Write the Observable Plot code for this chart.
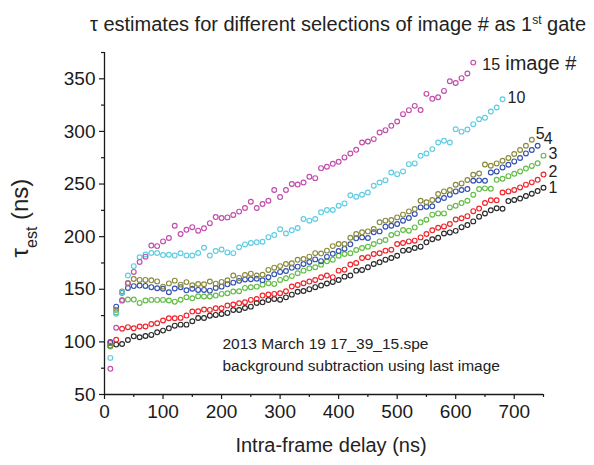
<!DOCTYPE html>
<html>
<head>
<meta charset="utf-8">
<script src="https://cdn.jsdelivr.net/npm/d3@7"></script>
<script src="https://cdn.jsdelivr.net/npm/@observablehq/plot@0.6"></script>
<style>
  html, body { margin: 0; padding: 0; background: #ffffff; }
  #chart { width: 594px; height: 465px; }
</style>
</head>
<body>
<div id="chart"></div>
<script>
// Intra-frame delays (ns) shared by all selections
const delays = [
  10, 20, 30, 40, 50, 60, 70, 80, 90, 100,
  110, 120, 130, 140, 150, 160, 170, 180, 190, 200,
  210, 220, 230, 240, 250, 260, 270, 280, 290, 300,
  310, 320, 330, 340, 350, 360, 370, 380, 390, 400,
  410, 420, 430, 440, 450, 460, 470, 480, 490, 500,
  510, 520, 530, 540, 550, 560, 570, 580, 590, 600,
  610, 620, 630, 640, 650, 660, 670, 680, 690, 700,
  710, 720, 730, 740, 750
];

// tau estimates (ns), one list per image # used as first gate
const tau1 = [
  96, 97.4, 98, 101.8, 105.3, 104.4, 105.6, 106.6, 109.1, 110.7,
  112.9, 115.4, 116.4, 116.4, 119.6, 122.7, 122.7, 124.9, 125.6, 126.5,
  127.5, 130.3, 130.3, 132.2, 133.5, 137, 137.6, 139.8, 140.8, 140.1,
  142.3, 144.9, 147.6, 148.4, 150.1, 152, 153.5, 155.5, 157, 158.8,
  162, 163, 167.7, 168.3, 170.9, 174, 175.6, 178.1, 179.7, 181.9,
  186.7, 187.3, 189.2, 190.5, 194.6, 197.5, 199, 203, 204, 205.5,
  209, 211, 214.5, 219, 222, 225, 227, 226.5, 233.8, 234.8,
  236.2, 238.6, 240.8, 243.3, 246.5
];
const tau2 = [
  99, 102, 112.5, 114, 113, 114.6, 114.6, 117, 117.7, 120.3,
  122.5, 122.5, 122.8, 125, 128.8, 129.1, 130.7, 130.4, 132, 132,
  134.5, 135.5, 136.7, 137.7, 139.9, 140.8, 144, 145, 145.6, 146.2,
  148.1, 152.6, 154.1, 155.7, 157.3, 158.8, 161.4, 163, 161.5, 167.7,
  168.6, 173.5, 175, 179.7, 180.4, 183.5, 184.2, 186.7, 187.6, 193,
  194, 195.5, 196.2, 199.3, 202.5, 206, 208.5, 209.7, 212, 216.3,
  217.5, 219.5, 224.2, 226.7, 232, 234.5, 234.5, 242, 243, 244.3,
  246.8, 249.4, 251.6, 254, 259
];
const tau3 = [
  95.6, 128, 139.9, 140.2, 140.2, 137, 139.3, 139.9, 139.9, 139.9,
  139.3, 138.2, 140, 142.4, 141.5, 143.4, 143.1, 143.1, 144, 145.6,
  146.2, 147.8, 148.1, 151.3, 151.9, 152.5, 154.4, 155.7, 155.1, 158.9,
  160.5, 162.5, 165.2, 167.7, 169.9, 170.9, 173.4, 176.6, 178.1, 181.9,
  183.5, 184.2, 187.3, 189.2, 190.5, 193, 195.5, 196.8, 201.6, 203.1,
  206.3, 205.7, 208.8, 213.6, 216.1, 220.9, 222.1, 222.1, 227.8, 229.4,
  231.9, 234.1, 239.8, 245.2, 245.9, 245.5, 254, 255, 257.5, 259.8,
  262, 264.7, 267.2, 269.7, 277
];
const tau4 = [
  100, 133.5, 146.7, 151.3, 153, 153.5, 153.2, 152, 151, 150.5,
  147.2, 150.7, 152, 149, 150.5, 149.4, 149.4, 148.7, 151.3, 152.5,
  154.7, 156.3, 158, 159.3, 159.5, 160, 158.5, 161.4, 164.2, 166.5,
  167.4, 170.4, 171.5, 174, 175.9, 178.4, 176.7, 180.8, 183.8, 186.3,
  188.5, 192.7, 198.4, 199.3, 198.7, 204.1, 205, 209.5, 210.4, 212,
  215.2, 217.7, 221.5, 227.8, 228.4, 228.8, 234.8, 236.7, 239.8, 243,
  244.3, 245.2, 253.1, 253.5, 253.1, 261, 262, 265.8, 268.3, 271.5,
  274.7, 279.1, 282.3, 286.4
];
const tau5 = [
  96.5, 130.6, 148, 156, 159.8, 158.9, 158.9, 158.5, 157.5, 152.5,
  155.6, 158.2, 154.4, 156.8, 153.8, 155, 154.8, 157.4, 155.3, 157,
  158.5, 163, 160.8, 163.5, 164.8, 163, 163.8, 168.4, 170.5, 172,
  174, 174.7, 178, 178.8, 181, 184.3, 184, 186.7, 191, 193,
  193, 199, 202.5, 204.1, 205, 207.3, 213.6, 215.2, 215.8, 218.3,
  220.9, 224, 226.2, 234.1, 232.6, 234.8, 240.5, 243, 244.3, 249.3,
  250.6, 253.8, 258.8, 260, 268.6, 267.4, 269.6, 272.1, 274.7, 278.5,
  282.3, 286.4, 292.1
];
const tau10 = [
  84.8, 126.8, 147, 163, 172, 180.4, 183, 184.5, 184.5, 182.5,
  182.8, 182, 184.2, 182, 182, 184.5, 189.5, 182, 186.3, 187.8,
  185, 184.3, 189.9, 192.6, 194, 194.6, 195.2, 199.5, 201.5, 207,
  203, 206, 208.2, 216.8, 215.2, 216.8, 223.1, 225.3, 225.3, 229.4,
  231.6, 239.3, 237.9, 239.8, 242, 248.4, 251.5, 253.7, 261, 259.4,
  262, 268.9, 269.6, 276.8, 279, 283.2, 289.5, 291.1, 289.5, 302.1,
  299.8, 301.8, 306.9, 311.6, 313, 318.9, 322.7, 330.6
];
const tau15 = [
  74.4, 113.4, 139.2, 155.6, 166.5, 176, 181, 191.5, 191, 195.5,
  198.7, 210.4, 202.5, 206.5, 209, 205.7, 207.9, 212.8, 218.6, 217.7,
  218.3, 220.6, 223.8, 227.2, 233.2, 227.2, 231, 234.1, 244.3, 237.6,
  244.3, 250, 249.5, 251.5, 256.9, 255.6, 265.1, 266.4, 269.2, 271.1,
  275.3, 279, 282.5, 289.5, 290.4, 292.7, 299, 301.2, 305.3, 309.4,
  316.4, 320.2, 324.3, 320.3, 335.7, 331, 332.5, 338.5, 347.7, 346,
  350.6, 355, 365.4
];

const seriesNames = ["1", "2", "3", "4", "5", "10", "15"];
const seriesValues = [tau1, tau2, tau3, tau4, tau5, tau10, tau15];
const seriesColors = ["#2a2a2a", "#f0242a", "#62bd45", "#3550b3", "#8a8a3c", "#5fcde2", "#c24daa"];

// tick values
const xMajorTicks = [0, 100, 200, 300, 400, 500, 600, 700];
const xMinorTicks = [50, 150, 250, 350, 450, 550, 650, 750];
const yMajorTicks = [50, 100, 150, 200, 250, 300, 350];
const yMinorTicks = [75, 125, 175, 225, 275, 325, 375];

const titleText = "τ estimates for different selections of image # as 1st gate";
const yLabelText = "τest (ns)";
const xLabelText = "Intra-frame delay (ns)";
const noteText = "2013 March 19 17_39_15.spe\nbackground subtraction using last image";

// label placement for each series end (pixels relative to last point)
const labelOffsets = {
  "1": [5, 0], "2": [5, -3], "3": [5, -2], "4": [6, -7],
  "5": [4, -6], "10": [5, -1], "15": [9, 2]
};

const rows = seriesNames.map((name, k) =>
  seriesValues[k].map((v, i) => ({series: name, delay: delays[i], tau: v}))
);
const lastPoints = rows.map(r => r[r.length - 1]);

const font = "'Liberation Sans', Arial, Helvetica, sans-serif";

const marks = [];
rows.forEach((r, k) => {
  marks.push(Plot.dot(r, {
    x: "delay", y: "tau", r: 2.4, fill: "none",
    stroke: seriesColors[k], strokeWidth: 1.15
  }));
});

marks.push(
  Plot.ruleX([0], {stroke: "#1a1a1a", strokeWidth: 1.3}),
  Plot.ruleY([50], {stroke: "#1a1a1a", strokeWidth: 1.3}),
  Plot.axisX({ticks: xMajorTicks, tickSize: 5, tickPadding: 5, fontSize: 19, label: null, stroke: "#1a1a1a", strokeWidth: 1.2}),
  Plot.axisX({ticks: xMinorTicks, tickSize: 3, tickFormat: () => "", label: null, stroke: "#1a1a1a", strokeWidth: 1.2}),
  Plot.axisY({ticks: yMajorTicks, tickSize: 5, tickPadding: 4, fontSize: 19, label: null, stroke: "#1a1a1a", strokeWidth: 1.2}),
  Plot.axisY({ticks: yMinorTicks, tickSize: 3, tickFormat: () => "", label: null, stroke: "#1a1a1a", strokeWidth: 1.2})
);

// series labels at the end of each run
lastPoints.forEach(p => {
  const [dx, dy] = labelOffsets[p.series];
  marks.push(Plot.text([p], {
    x: "delay", y: "tau", text: "series", dx, dy,
    textAnchor: "start", fontSize: 16, fill: "#222"
  }));
});
const p15 = lastPoints[seriesNames.indexOf("15")];
marks.push(Plot.text([p15], {
  x: "delay", y: "tau", text: () => "image #", dx: 32, dy: 1,
  textAnchor: "start", fontSize: 20, fill: "#222"
}));

// annotation, axis titles and chart title
marks.push(
  Plot.text([noteText], {text: d => d, frameAnchor: "bottom-left", dx: 118, dy: -61,
    lineAnchor: "top", lineHeight: 1.42, textAnchor: "start", fontSize: 15.5, fill: "#222"}),
  Plot.text([xLabelText], {text: d => d, frameAnchor: "bottom", dx: 7, dy: 57, fontSize: 20, fill: "#222"}),
  Plot.text([yLabelText], {text: d => d, frameAnchor: "left", dx: -84, dy: 34, rotate: -90, fontSize: 24, fill: "#222"}),
  Plot.text([titleText], {text: d => d, frameAnchor: "top", dx: 14, dy: -36, fontSize: 20, fill: "#222"})
);

const chart = Plot.plot({
  width: 594,
  height: 465,
  marginLeft: 104,
  marginRight: 51,
  marginTop: 52,
  marginBottom: 71,
  style: {fontFamily: font, fontSize: "19px", color: "#1a1a1a", background: "#ffffff"},
  x: {domain: [0, 750]},
  y: {domain: [50, 375]},
  marks
});

// superscript / subscript runs in the title and y label
function richText(svg, plain, parts) {
  d3.select(svg).selectAll("text")
    .filter(function () { return this.textContent === plain; })
    .each(function () {
      const t = d3.select(this);
      t.text(null);
      for (const p of parts) {
        const s = t.append("tspan").text(p.text);
        if (p.shift) s.attr("baseline-shift", p.shift);
        if (p.size) s.attr("font-size", p.size);
      }
    });
}
richText(chart, titleText, [
  {text: "τ estimates for different selections of image # as 1"},
  {text: "st", shift: "super", size: 12},
  {text: " gate"}
]);
richText(chart, yLabelText, [
  {text: "τ"},
  {text: "est", shift: "sub", size: 16},
  {text: " (ns)"}
]);

document.getElementById("chart").appendChild(chart);
</script>
</body>
</html>
